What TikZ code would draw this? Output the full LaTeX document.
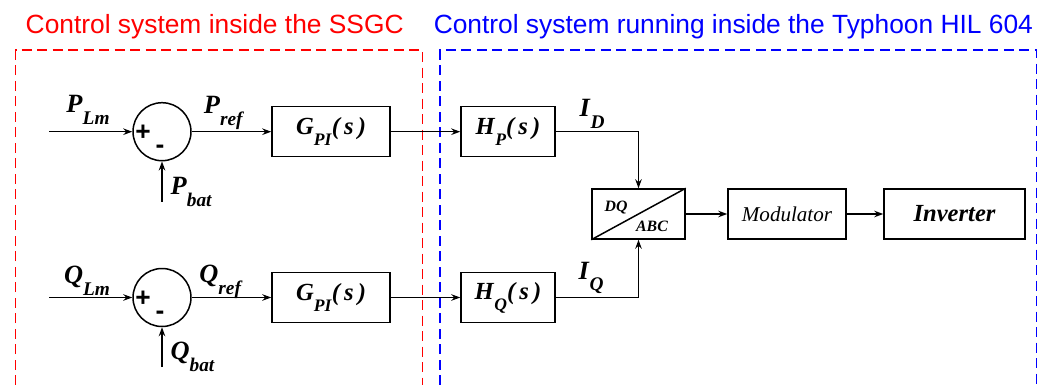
\documentclass[tikz,border=0pt]{standalone}
\usepackage{fontspec}
\setmainfont{Liberation Serif}
\newfontfamily\sansfont{Liberation Sans}
\usetikzlibrary{arrows.meta}

\newcommand{\sig}[2]{\fontsize{15}{15}\selectfont\textbf{\textit{#1}}\raisebox{-0.45em}{\fontsize{11}{11}\selectfont\textbf{\textit{#2}}}}
\newcommand{\tf}[3]{\fontsize{14}{14}\selectfont\textbf{\textit{#1}}\raisebox{-0.45em}{\fontsize{10}{10}\selectfont\textbf{\textit{#2}}}\textbf{\textit{(\,#3\,)}}}

\begin{document}
\begin{tikzpicture}[x=0.02cm, y=-0.02cm, line width=0.85pt,
  block/.style={draw, minimum height=1cm, inner sep=0pt},
  sumnode/.style={draw, circle, minimum size=1.16cm, inner sep=0pt},
  frame/.style={line width=0.9pt, dash pattern=on 0.2cm off 0.11cm},
  title/.style={anchor=base west, inner sep=0pt, font=\sansfont\fontsize{15}{17}\selectfont},
  sign/.style={inner sep=0pt, font=\sansfont\bfseries\fontsize{15}{15}\selectfont},
  >={Stealth[length=1.8mm, width=1.3mm]}]
\useasboundingbox (0,0) rectangle (1056,385);
% titles and frames
\node[title, text=red] (ttlssgc) at (25,34) {Control system inside the SSGC};
\node[title, text=blue] (ttlhil) at (433,34) {Control system running inside the Typhoon HIL 604};
\draw[frame, red] (15.7,385) -- (15.7,50) -- (422.3,50) -- (422.3,385);
\draw[frame, blue] (440,385) -- (440,50) -- (1036.7,50) -- (1036.7,385);
% P loop
\node[sumnode] (sumP) at (162,131.7) {};
\node[sign] at (143,133) {+};
\node[sign] at (160,149) {-};
\node[block, minimum width=2.36cm] (gpiP) at (331,131.7) {\tf{G}{PI}{s}};
\node[block, minimum width=1.88cm] (hP) at (508,131.7) {\tf{H}{P}{s}};
\coordinate (inPLm) at (49,131.7);
\coordinate (inPbat) at (162,202);
\draw[->] (inPLm) -- (sumP.west);
\draw[->] (inPbat) -- (sumP.south);
\draw[->] (sumP.east) -- (gpiP.west);
\draw[->] (gpiP.east) -- (hP.west);
\node (lblPLm) at (88,110) {\sig{P}{Lm}};
\node[anchor=west] (lblPbat) at (164,192) {\sig{P}{bat}};
\node (lblPref) at (224,113) {\sig{P}{ref}};
% Q loop
\node[sumnode] (sumQ) at (162,297.5) {};
\node[sign] at (143,299) {+};
\node[sign] at (160,315) {-};
\node[block, minimum width=2.36cm] (gpiQ) at (331,297.5) {\tf{G}{PI}{s}};
\node[block, minimum width=1.88cm] (hQ) at (508,297.5) {\tf{H}{Q}{s}};
\coordinate (inQLm) at (49,297.5);
\coordinate (inQbat) at (162,367);
\draw[->] (inQLm) -- (sumQ.west);
\draw[->] (inQbat) -- (sumQ.south);
\draw[->] (sumQ.east) -- (gpiQ.west);
\draw[->] (gpiQ.east) -- (hQ.west);
\node (lblQLm) at (87,281) {\sig{Q}{Lm}};
\node[anchor=west] (lblQbat) at (164,357) {\sig{Q}{bat}};
\node (lblQref) at (221,282) {\sig{Q}{ref}};
% transformation and output stage
\node[block, minimum width=1.86cm] (dqabc) at (638.5,214) {};
\draw (dqabc.south west) -- (dqabc.north east);
\node[font=\fontsize{9}{9}\selectfont\bfseries\itshape] at (616,208) {DQ};
\node[font=\fontsize{9}{9}\selectfont\bfseries\itshape] at (652,226) {ABC};
\node[block, minimum width=2.36cm, font=\fontsize{12}{12}\selectfont\itshape] (modul) at (787,214) {Modulator};
\node[block, minimum width=2.82cm, font=\fontsize{14}{14}\selectfont\bfseries\itshape] (inv) at (954.5,214) {Inverter};
\draw[->] (hP.east) -| (dqabc.north);
\draw[->] (hQ.east) -| (dqabc.south);
\draw[->] (dqabc.east) -- (modul.west);
\draw[->] (modul.east) -- (inv.west);
\node (lblID) at (592,114) {\sig{I}{D}};
\node (lblIQ) at (591,278) {\sig{I}{Q}};
\end{tikzpicture}
\end{document}
